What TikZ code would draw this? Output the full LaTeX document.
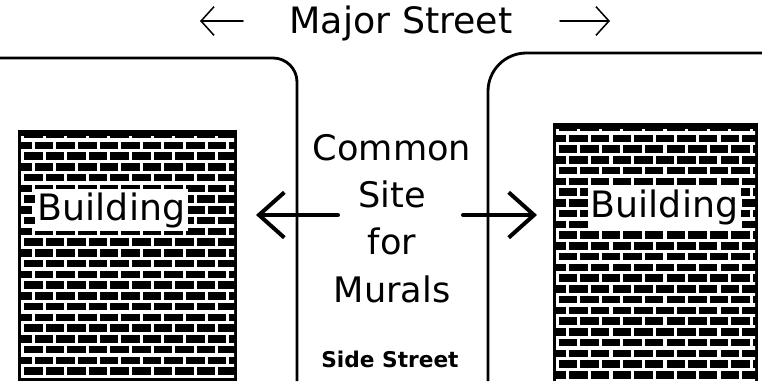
\documentclass[tikz,border=0pt]{standalone}
\usepackage{fontspec}
\setmainfont{DejaVu Sans}
\usepackage{tikz}
\usetikzlibrary{arrows.meta}
\definecolor{streetink}{RGB}{0,0,0}
\definecolor{mortar}{RGB}{255,255,255}
\tikzset{
  curb/.style={draw=streetink, line width=2.4pt, rounded corners=0.72cm},
  streetlabel/.style={font=\fontsize{31}{37}\selectfont, inner sep=0pt},
  sitelabel/.style={font=\fontsize{30}{40.2}\selectfont, align=center,
    inner sep=0pt},
  sidelabel/.style={font=\bfseries\fontsize{18.5}{22}\selectfont, inner sep=0pt},
  buildlabel/.style={fill=white, font=\fontsize{31}{37}\selectfont,
    inner xsep=2pt, inner ysep=0pt, minimum height=1.26cm},
  brickface/.style={fill=streetink},
  mortarline/.style={draw=mortar, line width=2.7pt},
  streetarrow/.style={-{Straight Barb[length=3.9mm, width=8.6mm]},
    line width=1.3pt, line cap=round},
  muralarrow/.style={-{Straight Barb[length=7.6mm, width=13.6mm]},
    line width=3.4pt, line cap=round, line join=round},
}

\begin{document}
\begin{tikzpicture}[x=0.03cm, y=-0.03cm]
  \useasboundingbox (0,0) rectangle (762,381);

  % street title with its two arrows
  \node[streetlabel, anchor=base] (major) at (401,33) {Major Street};
  \coordinate (majorL0) at (243,21);
  \coordinate (majorL1) at (200,21);
  \coordinate (majorR0) at (560,21);
  \coordinate (majorR1) at (610,21);
  \draw[streetarrow] (majorL0) -- (majorL1);
  \draw[streetarrow] (majorR0) -- (majorR1);

  % curbs of the corner
  \draw[curb] (0,58) -- (297,58) -- (297,381);
  \draw[curb, rounded corners=1.15cm] (762,53) -- (488,53) -- (488,381);

  % left building, brick wall
  \fill[brickface] (18,130) rectangle (237,381);
  \begin{scope}
    \clip (21,136) rectangle (234,381);
    \foreach \r in {0,...,22} {
      \pgfmathsetmacro\yy{140+\r*10.75}
      \pgfmathsetmacro\xo{mod(\r,2)*10.8}
      \draw[mortarline] (18,\yy) -- (237,\yy);
      \foreach \c in {0,...,10}
        \draw[mortarline] (22.5+\xo+\c*21.6,\yy) -- ++(0,-10.75);
    }
  \end{scope}
  \node[buildlabel] (lbuild) at (111.5,210) {Building};

  % right building, brick wall
  \fill[brickface] (553,123) rectangle (758,381);
  \begin{scope}
    \clip (556,129) rectangle (755,381);
    \foreach \r in {0,...,23} {
      \pgfmathsetmacro\yy{133+\r*10.75}
      \pgfmathsetmacro\xo{mod(\r,2)*10.8}
      \draw[mortarline] (553,\yy) -- (758,\yy);
      \foreach \c in {0,...,10}
        \draw[mortarline] (557+\xo+\c*21.6,\yy) -- ++(0,-10.75);
    }
  \end{scope}
  \node[buildlabel] (rbuild) at (664.5,207.5) {Building};

  % the site between the corners (base = last line)
  \node[sitelabel, anchor=base] (site) at (392,302)
    {Common\\Site\\for\\Murals};
  \node[sidelabel, anchor=base] (side) at (390,367) {Side Street};

  \coordinate (siteL0) at (338,215);
  \coordinate (siteL1) at (256,215);
  \coordinate (siteR0) at (463,215);
  \coordinate (siteR1) at (537,215);
  \draw[muralarrow] (siteL0) -- (siteL1);
  \draw[muralarrow] (siteR0) -- (siteR1);
\end{tikzpicture}
\end{document}
